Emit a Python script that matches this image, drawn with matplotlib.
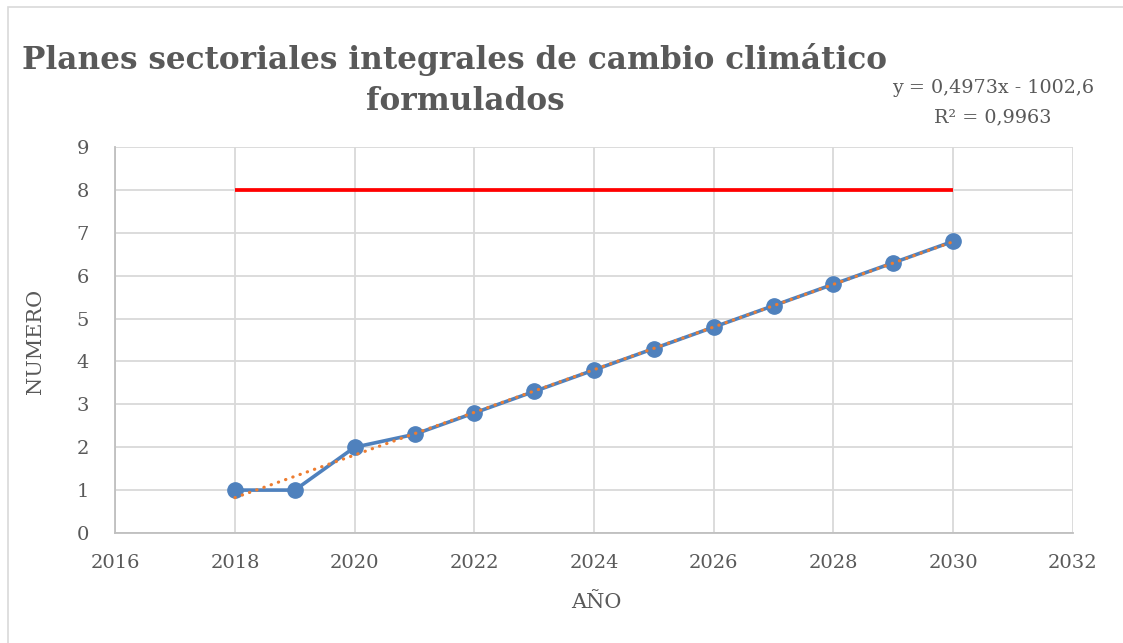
import numpy as np
import matplotlib
matplotlib.use("Agg")
import matplotlib.pyplot as plt
from matplotlib.patches import Rectangle

# Data
years = [2018, 2019, 2020, 2021, 2022, 2023, 2024, 2025, 2026, 2027, 2028, 2029, 2030]
planes = [1, 1, 2, 2.3, 2.8, 3.3, 3.8, 4.3, 4.8, 5.3, 5.8, 6.3, 6.8]
meta_years = [2018, 2030]
meta_value = [8, 8]
x_ticks = [2016, 2018, 2020, 2022, 2024, 2026, 2028, 2030, 2032]
y_ticks = [0, 1, 2, 3, 4, 5, 6, 7, 8, 9]

TEXT = "#595959"
GRID = "#D9D9D9"
FONT = ["DejaVu Serif"]
plt.rcParams["font.family"] = FONT

fig = plt.figure(figsize=(11.23, 6.43), dpi=100)
fig.patch.set_facecolor("white")

# chart frame
fig.add_artist(Rectangle((8 / 1123, -0.05), 1.2, 1 - 7 / 643 + 0.05,
                         transform=fig.transFigure, fill=False,
                         edgecolor=GRID, linewidth=1.2))

ax = fig.add_axes([0.1027, 0.1711, 0.8525, 0.6003])
ax.set_xlim(2016, 2032)
ax.set_ylim(0, 9)
ax.set_xticks(x_ticks)
ax.set_yticks(y_ticks)
ax.grid(True, color=GRID, linewidth=1.3, zorder=0)
for side in ["top", "right"]:
    ax.spines[side].set_visible(False)
for side in ["left", "bottom"]:
    ax.spines[side].set_color("#BFBFBF")
    ax.spines[side].set_linewidth(1.3)
ax.tick_params(length=0, labelsize=14, colors=TEXT)
ax.tick_params(axis="y", pad=19)
ax.tick_params(axis="x", pad=15)

# goal line
ax.plot(meta_years, meta_value, color="#FF0000", linewidth=2.7,
        solid_capstyle="butt", zorder=3)

# series
ax.plot(years, planes, color="#4F81BD", linewidth=2.6, marker="o",
        markersize=11, zorder=4)

# linear trend
slope, intercept = np.polyfit(years, planes, 1)
fit = slope * np.array(years) + intercept
ss_res = np.sum((np.array(planes) - fit) ** 2)
ss_tot = np.sum((np.array(planes) - np.mean(planes)) ** 2)
r2 = 1 - ss_res / ss_tot
tx = np.array([years[0], years[-1]])
ax.plot(tx, slope * tx + intercept, color="#ED7D31", linewidth=2.3,
        linestyle=(0, (0.1, 2.3)), dash_capstyle="round", zorder=5)

def fmt(v, n):
    return f"{v:.{n}f}".replace(".", ",")

fig.text(993 / 1123, 1 - 88 / 643,
         f"y = {fmt(slope, 4)}x - {fmt(-intercept, 1)}",
         ha="center", va="center", fontsize=13.8, color=TEXT)
fig.text(993 / 1123, 1 - 117 / 643,
         f"R² = {fmt(r2, 4)}",
         ha="center", va="center", fontsize=13.8, color=TEXT)

fig.text(454 / 1123, 1 - 60 / 643,
         "Planes sectoriales integrales de cambio climático",
         ha="center", va="center", fontsize=22.4, fontweight="bold", color=TEXT)
fig.text(465 / 1123, 1 - 102 / 643, "formulados",
         ha="center", va="center", fontsize=22.4, fontweight="bold", color=TEXT)

fig.text(35 / 1123, 1 - 341 / 643, "NUMERO", rotation=90, ha="center",
         va="center", fontsize=15, color=TEXT)
fig.text(596 / 1123, 1 - 603 / 643, "AÑO", ha="center", va="center",
         fontsize=15, color=TEXT)

fig.savefig("out.png", dpi=100)
